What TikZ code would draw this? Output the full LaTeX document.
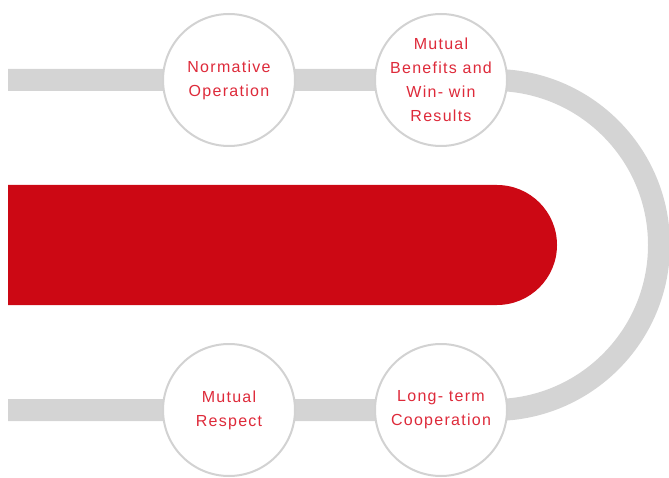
\documentclass[tikz,border=0pt]{standalone}
\usepackage{xcolor}
\usepackage{fontspec}
\setmainfont{Liberation Sans}[LetterSpace=8]
\usepackage{tikz}
\usetikzlibrary{positioning}

\definecolor{bandgray}{HTML}{D4D4D4}
\definecolor{ringgray}{HTML}{D2D2D2}
\definecolor{capred}{HTML}{CC0814}
\definecolor{txtred}{HTML}{DE2A3A}

\begin{document}
\begin{tikzpicture}[x=1pt, y=-1pt,
    band/.style={draw=bandgray, line width=22pt},
    goal/.style={circle, draw=ringgray, line width=2pt, fill=white, minimum size=132pt,
    inner sep=0pt, text=txtred, align=center, font=\fontsize{16}{24}\selectfont},
    node distance=78pt]

  \useasboundingbox (0,0) rectangle (669,478);

  % red bar
  \fill[capred] (8,185) -- (497,185) arc[start angle=-90, end angle=90, radius=60] -- (8,305) -- cycle;

  % gray track
  \coordinate (topend) at (8,80);
  \coordinate (botend) at (8,410);
  \draw[band] (topend) -- (494,80) arc[start angle=-90, end angle=90, radius=165] -- (botend);

  \node[goal] (norm) at (229,80) {Normative\\Operation};
  \node[goal, right=of norm] (benefit) {Mutual\\Benefits and\\Win- win\\Results};
  \node[goal] (respect) at (229,410) {Mutual\\Respect};
  \node[goal, right=of respect] (coop) {Long- term\\Cooperation};

\end{tikzpicture}
\end{document}
